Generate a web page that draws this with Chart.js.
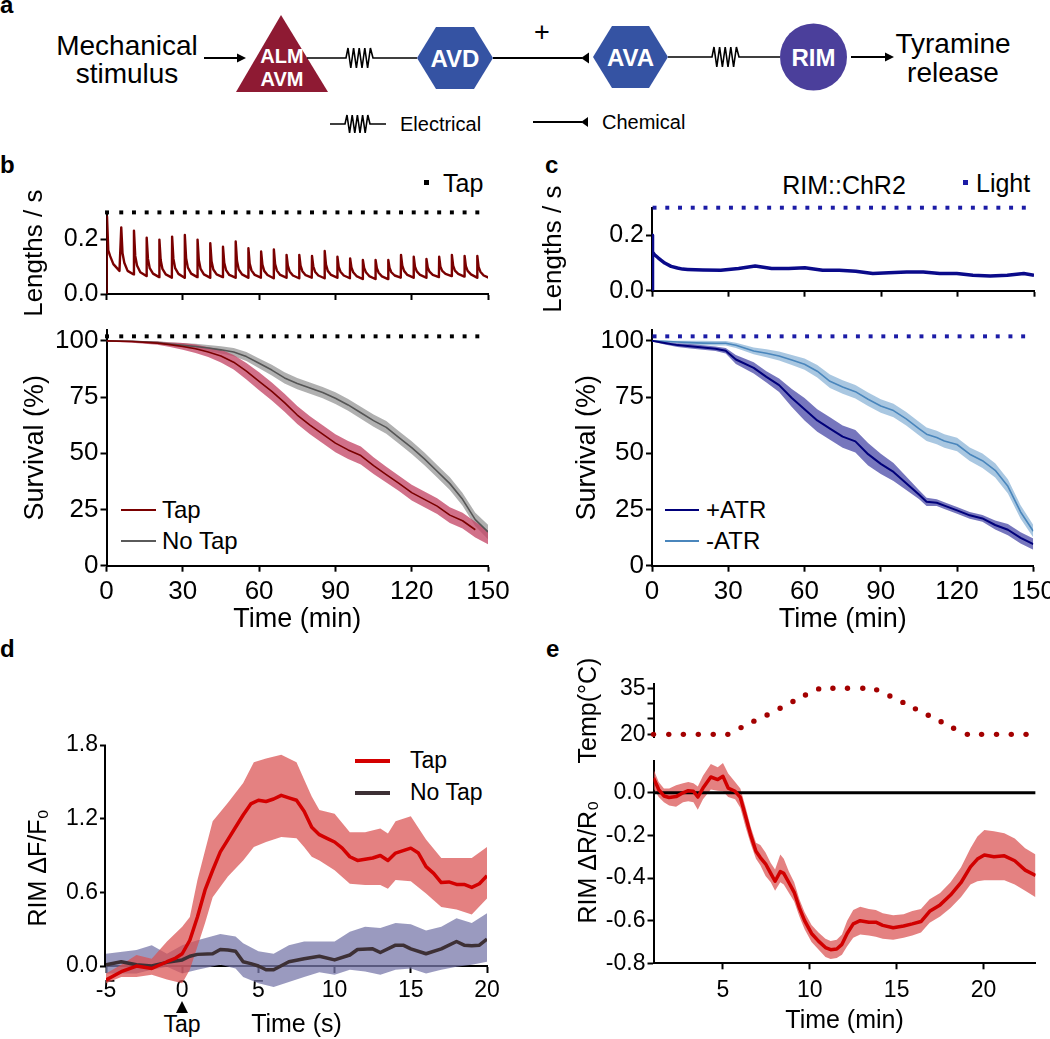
<!DOCTYPE html>
<html><head><meta charset="utf-8">
<script src="https://cdn.jsdelivr.net/npm/chart.js@4.4.1/dist/chart.umd.min.js"></script>
<style>
html,body{margin:0;padding:0;background:#fff;}
body{width:1050px;height:1039px;overflow:hidden;position:relative;font-family:"Liberation Sans",Arial,Helvetica,sans-serif;color:#000;}
canvas{position:absolute;}
.tx{position:absolute;white-space:nowrap;line-height:1;}
.lbl{position:absolute;font-weight:bold;font-size:24px;line-height:1;}
.ln{position:absolute;}
</style></head><body>

<svg width="1050" height="140" style="position:absolute;left:0;top:0" font-family="Liberation Sans, Arial, sans-serif">
  <text x="0" y="13" font-size="24" font-weight="bold">a</text>
  <text x="127" y="55" font-size="28" text-anchor="middle">Mechanical</text>
  <text x="127" y="83" font-size="28" text-anchor="middle">stimulus</text>
  <line x1="204" y1="58" x2="238" y2="58" stroke="#000" stroke-width="2"/>
  <polygon points="246,58 237,53.5 237,62.5" fill="#000"/>
  <polygon points="281,15 236,92 328,92" fill="#8e1a33"/>
  <text x="282" y="63" font-size="20" font-weight="bold" fill="#fff" text-anchor="middle">ALM</text>
  <text x="282" y="86" font-size="20" font-weight="bold" fill="#fff" text-anchor="middle">AVM</text>
  <polyline points="307,58 346,58 348,48 350.8,68 353.6,48 356.4,68 359.2,48 362,68 364.8,48 367.6,68 370.4,48 373,58 417,58" fill="none" stroke="#000" stroke-width="1.6" stroke-linejoin="miter"/>
  <polygon points="417,58 436,27 474,27 493,58 474,89 436,89" fill="#3553a3"/>
  <text x="455" y="66.5" font-size="24" font-weight="bold" fill="#fff" text-anchor="middle">AVD</text>
  <line x1="493" y1="58" x2="582" y2="58" stroke="#000" stroke-width="2"/>
  <polygon points="581,58 589,52.5 589,63.5" fill="#000"/>
  <text x="542" y="41" font-size="27" text-anchor="middle">+</text>
  <polygon points="593,57 612,26 649,26 668,57 649,88 612,88" fill="#3553a3"/>
  <text x="630.5" y="65.5" font-size="24" font-weight="bold" fill="#fff" text-anchor="middle">AVA</text>
  <polyline points="668,57 712,57 714,47 716.8,67 719.6,47 722.4,67 725.2,47 728,67 730.8,47 733.6,67 736.4,47 739,57 780,57" fill="none" stroke="#000" stroke-width="1.6"/>
  <circle cx="813.5" cy="57" r="33.5" fill="#4b3f9b"/>
  <text x="813.5" y="65.5" font-size="24" font-weight="bold" fill="#fff" text-anchor="middle">RIM</text>
  <line x1="851" y1="57" x2="886" y2="57" stroke="#000" stroke-width="2"/>
  <polygon points="894,57 885,52.5 885,61.5" fill="#000"/>
  <text x="953" y="53" font-size="28" text-anchor="middle">Tyramine</text>
  <text x="953" y="82" font-size="28" text-anchor="middle">release</text>
  <polyline points="330,124 345,124 347,115 349.6,133 352.2,115 354.8,133 357.4,115 360,133 362.6,115 365.2,133 367.8,115 370,124 386,124" fill="none" stroke="#000" stroke-width="1.6"/>
  <text x="400" y="131" font-size="20">Electrical</text>
  <line x1="533" y1="122" x2="582" y2="122" stroke="#000" stroke-width="2"/>
  <polygon points="581,122 588,117 588,127" fill="#000"/>
  <text x="602" y="129" font-size="20">Chemical</text>
</svg>

<div class="lbl" style="left:0;top:153px">b</div>
<div class="lbl" style="left:545px;top:153px">c</div>
<div class="lbl" style="left:0;top:637px">d</div>
<div class="lbl" style="left:546px;top:637px">e</div>

<!-- b annotations -->
<div class="ln" style="left:424px;top:180px;width:5px;height:5px;background:#000"></div>
<div class="tx" style="left:443px;top:171px;font-size:25px">Tap</div>
<div class="ln" style="left:121px;top:509px;width:35px;height:2px;background:#7a0000"></div>
<div class="tx" style="left:162px;top:498px;font-size:24px">Tap</div>
<div class="ln" style="left:121px;top:540px;width:35px;height:2px;background:#5a5a5a"></div>
<div class="tx" style="left:162px;top:529px;font-size:24px">No Tap</div>

<!-- c annotations -->
<div class="tx" style="left:844px;top:173px;font-size:25px;transform:translateX(-50%)">RIM::ChR2</div>
<div class="ln" style="left:963px;top:180px;width:5px;height:5px;background:#1c1ca6"></div>
<div class="tx" style="left:976px;top:171px;font-size:25px">Light</div>
<div class="ln" style="left:665px;top:509px;width:34px;height:2px;background:#00007a"></div>
<div class="tx" style="left:706px;top:498px;font-size:24px">+ATR</div>
<div class="ln" style="left:665px;top:540px;width:34px;height:2px;background:#4a86bc"></div>
<div class="tx" style="left:706px;top:529px;font-size:24px">-ATR</div>

<!-- d annotations -->
<div class="ln" style="left:355px;top:759px;width:35px;height:4px;background:#d40000"></div>
<div class="tx" style="left:410px;top:749px;font-size:23px">Tap</div>
<div class="ln" style="left:355px;top:791px;width:35px;height:4px;background:#3d3035"></div>
<div class="tx" style="left:410px;top:781px;font-size:23px">No Tap</div>
<svg width="20" height="14" style="position:absolute;left:172px;top:1000px"><polygon points="10,1 16,13 4,13" fill="#000"/></svg>
<div class="tx" style="left:182px;top:1013px;font-size:23px;transform:translateX(-50%)">Tap</div>

<canvas id="b1"></canvas>
<canvas id="b2"></canvas>
<canvas id="c1"></canvas>
<canvas id="c2"></canvas>
<canvas id="d1"></canvas>
<canvas id="e1"></canvas>
<canvas id="e2"></canvas>

<script>
// ---------------- DATA ----------------
// Panel b (top): tap times (min) and body-length trace samples after each tap
const tapTimes = [0.2,5.8,10.8,15.8,20.8,25.8,30.8,35.8,40.8,45.8,50.8,55.8,60.8,65.8,70.8,75.8,80.8,85.8,90.8,95.8,100.8,105.8,110.8,115.8,120.8,125.8,130.8,135.8,140.8,145.8];
const tapPeak   = [0.285,0.245,0.233,0.207,0.2,0.211,0.217,0.2,0.187,0.174,0.193,0.168,0.156,0.164,0.144,0.144,0.14,0.158,0.137,0.131,0.125,0.125,0.125,0.144,0.137,0.129,0.137,0.144,0.14,0.14];
const tapD1     = [0.16,0.15,0.14,0.13,0.125,0.13,0.132,0.125,0.12,0.115,0.122,0.112,0.108,0.11,0.104,0.104,0.102,0.108,0.1,0.098,0.096,0.095,0.096,0.104,0.1,0.098,0.1,0.104,0.102,0.1];
const tapD2     = [0.14,0.115,0.105,0.095,0.092,0.095,0.097,0.092,0.09,0.088,0.09,0.087,0.085,0.086,0.083,0.084,0.082,0.085,0.082,0.08,0.08,0.078,0.08,0.085,0.083,0.082,0.085,0.086,0.085,0.082];
const tapD3     = [0.11,0.085,0.08,0.075,0.072,0.074,0.075,0.072,0.072,0.07,0.072,0.07,0.07,0.07,0.068,0.069,0.068,0.07,0.068,0.066,0.066,0.065,0.068,0.07,0.07,0.07,0.074,0.074,0.072,0.068];
const tapTrough = [0.085,0.072,0.066,0.062,0.06,0.06,0.062,0.06,0.062,0.06,0.06,0.06,0.058,0.06,0.058,0.06,0.058,0.06,0.058,0.055,0.055,0.055,0.06,0.06,0.06,0.062,0.066,0.064,0.06,0.058];
const tapSampleOffsets = [0, 0.5, 1.2, 2.5, 4.9];

// Panel c (top): light stimulation and length trace
const lightTimes = [1,6,11,16,21,26,31,36,41,46,51,56,61,66,71,76,81,86,91,96,101,106,111,116,121,126,131,136,141,146];
const lightT = [0,0.1,0.3,1,2.5,5,7.5,10,12,14,20,27,34,40.5,47,53.7,60,67,73.5,80,86.7,93,100,106.5,113,119.7,126,132.8,139.5,146,150];
const lightV = [0,0.2,0.14,0.13,0.118,0.1,0.088,0.082,0.078,0.077,0.075,0.074,0.08,0.089,0.08,0.08,0.083,0.074,0.074,0.07,0.062,0.065,0.068,0.068,0.062,0.062,0.056,0.053,0.056,0.062,0.056];

// Panel b (bottom): survival
const survT = [0,10,20,25,30,35,40,45,50,55,60,65,70,75,80,85,90,95,100,105,110,115,120,125,130,135,140,145,150];
const tapMean = [100,99.7,99,98.3,97.5,96.5,95,93.3,90.5,86.5,82,77.5,72.5,67,62.5,58.5,54.5,51.5,49,44.5,40.5,36.6,32.5,29.5,26.5,22.5,20,16,null];
const tapLo   = [99.7,99.2,98.3,97.3,96,94.6,92.8,90.4,87.3,82.8,78,73.5,68.5,63,58.5,54.5,50.5,47.5,45,40.8,37,33.2,29,26,23,19,16.5,12.5,9.5];
const tapHi   = [100,100,99.7,99.3,99,98.4,97.2,96.2,93.7,90.2,86,81.5,76.5,71,66.5,62.5,58.5,55.5,53,48.2,44,40,36,33,30,26,23.5,19.5,15.5];
const noTapMean = [100,99.8,99.2,98.6,98,97.5,96.8,96,95,93,90,87,83.5,81,79,77,74.5,71.5,68,64.5,61.5,57,52.5,47.5,42,36.5,29.5,20.5,15];
const noTapLo   = [99.8,99.4,98.6,97.8,97,96.3,95.4,94.4,93.2,91,87.8,84.6,81,78.5,76.5,74.5,71.9,68.9,65.3,61.8,58.7,54.2,49.7,44.7,39.2,33.7,26.7,17.5,11.8];
const noTapHi   = [100,100,99.8,99.4,99,98.7,98.2,97.6,96.8,95,92.2,89.4,86,83.5,81.5,79.5,77.1,74.1,70.7,67.2,64.3,59.8,55.3,50.3,44.8,39.3,32.3,23.5,18.2];
const survDotLevel = 102;

// Panel c (bottom): survival
const cT = [0,5,10,15,20,25,29,33,40,45,50,55,60,65,70,75,80,85,90,95,100,105,108,112,115,120,125,130,135,140,145,150];
const atrMean = [100,99,98.1,97.6,97,96.5,95.6,91.7,88,84,80.3,74.6,69.6,64.6,61,57.4,55.3,49.6,45.3,41.7,36.7,31.7,28.4,28,26.7,24.6,22.4,21,18.1,16,12.4,9.6];
const atrLo   = [99.7,98.4,97.3,96.6,96,95.5,94.4,89.7,85.5,81.5,77.3,70.6,64.6,59.6,56,52.4,50.3,44.6,40.8,37.7,33.7,29.7,26.6,26.5,25.2,23.1,20.9,19.5,16.1,13.5,9.9,7.1];
const atrHi   = [100,99.6,98.9,98.6,98,97.5,96.8,93.7,90.5,86.5,83.3,78.6,74.6,69.6,66,62.4,60.3,54.6,49.8,45.7,39.7,33.7,30.2,29.5,28.2,26.1,23.9,22.5,20.1,18.5,14.9,12.1];
const noAtrMean = [100,99.8,99.5,99.2,99,98.9,98.9,98,95.5,94.5,93.3,91.5,89.6,86.5,82,79.5,77.4,74,71,69,65.3,61,58.5,57,55.5,53.9,49.6,46.7,42.4,35.3,23.9,15.3];
const noAtrLo   = [99.8,99.4,98.9,98.4,98,97.9,97.9,96.8,94,92.7,91.3,89.3,87.1,83.7,79,76.5,74.4,71,68,66,62.3,58,55.5,54,52.5,50.9,46.6,43.5,39.2,32.1,20.9,12.5];
const noAtrHi   = [100,100,100,100,100,99.9,99.9,99.2,97,96.3,95.3,93.7,92.1,89.3,85,82.5,80.4,77,74,72,68.3,64,61.5,60,58.5,56.9,52.6,49.9,45.6,38.5,26.9,18.1];

// Panel d: RIM calcium response
const dTapT = [-5,-4,-3,-2,-1,-0.5,0,0.5,1,1.5,2,2.5,3,3.5,4,4.5,5,5.5,6,6.5,7,7.5,8,8.5,9,9.5,10,10.5,11,11.5,12,12.5,13,13.5,14,14.5,15,15.5,16,16.5,17,17.5,18,18.5,19,19.5,20];
const dTapMean = [-0.114,-0.046,0.0,-0.02,0.035,0.06,0.10,0.21,0.40,0.62,0.78,0.93,1.03,1.13,1.23,1.32,1.35,1.34,1.36,1.39,1.37,1.35,1.26,1.13,1.07,1.04,1.01,0.96,0.89,0.86,0.87,0.88,0.90,0.86,0.92,0.94,0.96,0.92,0.81,0.755,0.68,0.685,0.665,0.665,0.64,0.67,0.735];
const dTapBandT = [-5,-4,-3,-2,-1,0,0.5,1,1.5,2,3,4,4.7,5.5,6.5,7.5,8,8.5,9,10,11,12,13,13.5,14,15,16,17,18,19,20];
const dTapLo = [-0.14,-0.09,-0.09,-0.07,-0.11,-0.14,-0.03,0.16,0.35,0.56,0.73,0.86,0.97,1.01,1.05,1.04,0.97,0.89,0.86,0.78,0.67,0.66,0.66,0.63,0.70,0.69,0.59,0.48,0.46,0.42,0.55];
const dTapHi = [-0.06,0.01,0.09,0.06,0.20,0.32,0.40,0.70,0.94,1.18,1.33,1.49,1.66,1.69,1.72,1.66,1.52,1.38,1.27,1.24,1.09,1.09,1.12,1.08,1.18,1.22,1.03,0.88,0.88,0.88,0.97];
const dNoT = [-5,-4,-3,-2,-1,0,0.5,1,2,2.5,3,3.5,4,4.5,5,5.5,6,7,8,9,10,11,11.5,12.5,13,14,14.5,15,16,17,18,18.5,19,19.5,20];
const dNoMean = [0.01,0.035,0.01,0.0,0.03,0.05,0.08,0.095,0.10,0.135,0.13,0.12,0.035,0.02,0.0,-0.03,-0.03,0.035,0.06,0.08,0.05,0.09,0.135,0.14,0.11,0.17,0.17,0.14,0.10,0.14,0.20,0.17,0.165,0.17,0.22];
const dNoBandT = [-5,-3,-2,-1,0,1,2.5,3.5,4,5,6,7,8,9,10,11,12,13,14,15,16,17,18,19,20];
const dNoLo = [-0.06,-0.06,-0.03,-0.005,-0.06,-0.03,0.01,-0.02,-0.09,-0.14,-0.17,-0.13,-0.09,-0.05,-0.07,-0.03,-0.045,-0.07,-0.03,-0.02,-0.06,-0.03,-0.005,0.01,0.035];
const dNoHi = [0.10,0.13,0.17,0.10,0.17,0.21,0.26,0.24,0.185,0.12,0.10,0.17,0.20,0.20,0.20,0.28,0.32,0.31,0.35,0.34,0.29,0.32,0.39,0.35,0.43];

// Panel e: temperature and RIM ratio
const tempT = [1.0,1.88,2.72,3.58,4.44,5.28,6.04,6.78,7.54,8.29,9.03,9.75,10.51,11.33,12.17,13.05,13.85,14.61,15.36,16.08,16.82,17.56,18.28,19.07,19.89,20.75,21.6,22.45];
const tempV = [20,20,20,20,20,20,22.2,24.3,26.3,28.5,30.7,32.8,34.8,35,35,35,34.5,32.5,30.4,28.3,26.2,24.1,22,20,20,20,20,20];
const eT = [1.0,1.3,1.6,1.9,2.3,2.7,3.0,3.3,3.55,3.85,4.3,4.7,5.0,5.3,5.7,6.0,6.3,6.6,6.9,7.15,7.45,7.75,8.0,8.3,8.5,8.8,9.1,9.4,9.7,10.1,10.5,10.9,11.2,11.55,11.85,12.15,12.5,12.9,13.4,13.8,14.2,14.8,15.4,15.9,16.4,16.9,17.5,18.1,18.7,19.25,19.65,20.05,20.6,21.2,21.8,22.4,23.0];
const eMean = [0.07,0.015,-0.015,-0.022,-0.018,0.0,0.01,0.007,-0.02,0.022,0.074,0.062,0.077,0.022,0.007,-0.022,-0.11,-0.2,-0.274,-0.304,-0.333,-0.378,-0.415,-0.37,-0.378,-0.422,-0.467,-0.54,-0.6,-0.66,-0.696,-0.726,-0.736,-0.733,-0.711,-0.66,-0.615,-0.6,-0.607,-0.607,-0.622,-0.633,-0.625,-0.615,-0.604,-0.556,-0.526,-0.48,-0.422,-0.348,-0.311,-0.292,-0.3,-0.296,-0.319,-0.363,-0.388];
const eLo = [0.02,-0.02,-0.045,-0.06,-0.065,-0.045,-0.04,-0.045,-0.08,-0.03,0.015,0.01,0.007,-0.02,-0.03,-0.07,-0.16,-0.24,-0.31,-0.34,-0.39,-0.42,-0.46,-0.42,-0.43,-0.47,-0.51,-0.58,-0.64,-0.7,-0.735,-0.77,-0.78,-0.775,-0.76,-0.72,-0.68,-0.665,-0.67,-0.675,-0.685,-0.69,-0.68,-0.67,-0.655,-0.61,-0.58,-0.54,-0.49,-0.43,-0.415,-0.41,-0.41,-0.41,-0.43,-0.46,-0.49];
const eHi = [0.11,0.05,0.02,0.02,0.035,0.045,0.05,0.045,0.03,0.08,0.135,0.12,0.14,0.09,0.05,0.02,-0.067,-0.16,-0.235,-0.245,-0.28,-0.33,-0.36,-0.29,-0.31,-0.37,-0.42,-0.5,-0.56,-0.62,-0.655,-0.685,-0.695,-0.69,-0.665,-0.6,-0.55,-0.535,-0.545,-0.55,-0.565,-0.575,-0.57,-0.555,-0.545,-0.5,-0.47,-0.42,-0.35,-0.26,-0.205,-0.175,-0.18,-0.19,-0.215,-0.26,-0.29];

// Tick labels
const survXTicks = [0,30,60,90,120,150];
const survYTicks = [0,25,50,75,100];
const lenYTicks = [0,0.2];
const dXTicks = [-5,0,5,10,15,20];
const dYTicks = [0,0.6,1.2,1.8];
const tempYTicks = [20,25,30,35];
const tempYLabels = [20,35];
const eXTicks = [5,10,15,20];
const eYTicks = [-0.8,-0.6,-0.4,-0.2,0];

// ---------------- HELPERS ----------------
Chart.defaults.font.family = '"Liberation Sans", Arial, Helvetica, sans-serif';
Chart.defaults.color = '#000';

const xy = (xs, ys) => xs.map((x, i) => ({x, y: ys[i]}));
const TRANSP = 'rgba(0,0,0,0)';

function lineDs(data, color, width, order, extra) {
  return Object.assign({data, borderColor: color, borderWidth: width, pointRadius: 0, fill: false, order, borderJoinStyle: 'round', spanGaps: false}, extra || {});
}
function bandPair(lo, hi, color, order) {
  return [
    {data: hi, borderColor: TRANSP, borderWidth: 0, pointRadius: 0, fill: '+1', backgroundColor: color, order},
    {data: lo, borderColor: TRANSP, borderWidth: 0, pointRadius: 0, fill: false, order}
  ];
}
function dotsDs(data, color, radius, style, order) {
  return {data, showLine: false, pointRadius: radius, pointStyle: style, pointBackgroundColor: color, pointBorderWidth: 0, borderColor: color, order, clip: false};
}
function lin(min, max, tickVals, fmt, fs, extra, pad) {
  const base = {
    type: 'linear', min, max,
    afterBuildTicks: s => { s.ticks = tickVals.map(v => ({value: v})); },
    border: {display: true, color: '#000', width: 2},
    grid: {display: true, drawOnChartArea: false, drawTicks: true, tickLength: 6, tickWidth: 2, tickColor: '#000'},
    ticks: {color: '#000', font: {size: fs}, padding: (pad === undefined ? 2 : pad), callback: fmt, autoSkip: false, maxRotation: 0}
  };
  return Object.assign(base, extra || {});
}
function makeChart(id, R, A, datasets, xs, ys, plugins) {
  const c = document.getElementById(id);
  c.width = R.w; c.height = R.h;
  c.style.left = R.x + 'px'; c.style.top = R.y + 'px';
  const yW = A.l - R.x, xH = (R.y + R.h) - A.b;
  ys.afterFit = s => { s.width = yW; };
  const dyn = (xs.display === false) || (typeof xs.position === 'object');
  if (!dyn) xs.afterFit = s => { s.height = xH; };
  return new Chart(c, {
    type: 'line',
    data: {datasets},
    options: {
      responsive: false, animation: false, devicePixelRatio: 1,
      layout: {padding: {left: 0, top: A.t - R.y, right: R.x + R.w - A.r, bottom: dyn ? (R.y + R.h - A.b) : 0}},
      scales: {x: xs, y: ys},
      plugins: {legend: {display: false}, tooltip: {enabled: false}}
    },
    plugins: plugins || []
  });
}
const f1 = v => Number(v).toFixed(1);
const f0 = v => String(v);

// ---------------- PANEL b top ----------------
const lengthsPts = [{x: 0, y: 0}];
tapTimes.forEach((t, i) => {
  [tapPeak, tapD1, tapD2, tapD3, tapTrough].forEach((arr, j) => lengthsPts.push({x: t + tapSampleOffsets[j], y: arr[i]}));
});
makeChart('b1', {x: 0, y: 185, w: 520, h: 145}, {l: 106.5, t: 212.4, r: 488, b: 294},
  [
    dotsDs(tapTimes.map(t => ({x: t, y: 0.3})), '#000', 2.8, 'rect', 0),
    lineDs(lengthsPts, '#7a0000', 2.4, 1)
  ],
  lin(0, 150, survXTicks, f0, 25, {ticks: {display: false}}),
  lin(0, 0.3, lenYTicks, f1, 25, {title: {display: true, text: 'Lengths / s', font: {size: 26}, padding: {top: 19, bottom: 0}}})
);

// ---------------- PANEL b bottom ----------------
makeChart('b2', {x: 0, y: 312, w: 520, h: 325}, {l: 106.5, t: 320, r: 488, b: 565.7},
  [
    dotsDs(tapTimes.map(t => ({x: t, y: survDotLevel})), '#000', 2.8, 'rect', 0),
    lineDs(xy(survT, tapMean), '#7a0000', 1.6, 1),
    lineDs(xy(survT, noTapMean), '#555555', 1.6, 2),
    ...bandPair(xy(survT, tapLo), xy(survT, tapHi), 'rgba(196,72,104,0.78)', 3),
    ...bandPair(xy(survT, noTapLo), xy(survT, noTapHi), 'rgba(150,150,150,0.75)', 4)
  ],
  lin(0, 150, survXTicks, f0, 26, {title: {display: true, text: 'Time (min)', font: {size: 27}, padding: {top: 0, bottom: 1}}}, 5),
  lin(0, 105, survYTicks, f0, 26, {title: {display: true, text: 'Survival (%)', font: {size: 27}, padding: {top: 19, bottom: 0}}})
);

// ---------------- PANEL c top ----------------
makeChart('c1', {x: 520, y: 180, w: 540, h: 145}, {l: 652, t: 207.7, r: 1034, b: 290.7},
  [
    dotsDs(lightTimes.map(t => ({x: t, y: 0.3})), '#1c1ca6', 2.8, 'rect', 0),
    lineDs(xy(lightT, lightV), '#0a0a8a', 3.5, 1)
  ],
  lin(0, 150, survXTicks, f0, 25, {ticks: {display: false}}),
  lin(0, 0.3, lenYTicks, f1, 25, {title: {display: true, text: 'Lengths / s', font: {size: 26}, padding: {top: 18, bottom: 0}}})
);

// ---------------- PANEL c bottom ----------------
makeChart('c2', {x: 520, y: 312, w: 540, h: 325}, {l: 652, t: 320, r: 1034, b: 565.7},
  [
    dotsDs(lightTimes.map(t => ({x: t, y: survDotLevel})), '#1c1ca6', 2.8, 'rect', 0),
    lineDs(xy(cT, atrMean), '#00007a', 2, 1),
    lineDs(xy(cT, noAtrMean), '#4a86bc', 1.6, 2),
    ...bandPair(xy(cT, atrLo), xy(cT, atrHi), 'rgba(80,80,170,0.78)', 3),
    ...bandPair(xy(cT, noAtrLo), xy(cT, noAtrHi), 'rgba(140,180,215,0.75)', 4)
  ],
  lin(0, 150, survXTicks, f0, 26, {title: {display: true, text: 'Time (min)', font: {size: 27}, padding: {top: 0, bottom: 1}}}, 5),
  lin(0, 105, survYTicks, f0, 26, {title: {display: true, text: 'Survival (%)', font: {size: 27}, padding: {top: 51, bottom: 0}}})
);

// ---------------- PANEL d ----------------
const dAxisLine = {id: 'dAxisLine', afterDraw(ch) {
  const y = ch.scales.y, ctx = ch.ctx, x = ch.chartArea.left;
  ctx.save(); ctx.strokeStyle = '#000'; ctx.lineWidth = 2; ctx.beginPath();
  ctx.moveTo(x - 1, y.getPixelForValue(dYTicks[dYTicks.length - 1]));
  ctx.lineTo(x - 1, y.getPixelForValue(0) + 1);
  ctx.stroke(); ctx.restore();
}};
const dX = lin(-5, 20, dXTicks, f0, 23, {position: {y: 0},
  title: {display: true, text: 'Time (s)', font: {size: 25}, padding: {top: 0, bottom: 1}},
  afterFit: s => { s.height = 75; }}, 5);
makeChart('d1', {x: 0, y: 700, w: 520, h: 340}, {l: 106, t: 745, r: 487, b: 990.6},
  [
    lineDs(xy(dTapT, dTapMean), '#d40000', 3.5, 0),
    lineDs(xy(dNoT, dNoMean), '#3d3035', 3.5, 1),
    ...bandPair(xy(dTapBandT, dTapLo), xy(dTapBandT, dTapHi), 'rgba(218,80,80,0.72)', 2),
    ...bandPair(xy(dNoBandT, dNoLo), xy(dNoBandT, dNoHi), 'rgba(120,120,170,0.75)', 3)
  ],
  dX,
  lin(-0.2, 1.8, dYTicks, f1, 23, {border: {display: false},
    title: {display: true, text: 'RIM ΔF/F₀', font: {size: 25}, padding: {top: 24, bottom: 0}}}),
  [dAxisLine]
);

// ---------------- PANEL e top (temperature) ----------------
makeChart('e1', {x: 520, y: 640, w: 540, h: 135}, {l: 653.5, t: 683.7, r: 1035.6, b: 737.4},
  [ dotsDs(xy(tempT, tempV), '#a30000', 2.7, 'circle', 0) ],
  {type: 'linear', min: 1, max: 23, display: false},
  lin(19, 36.5, tempYTicks, v => tempYLabels.includes(v) ? String(v) : '', 23,
    {title: {display: true, text: 'Temp(°C)', font: {size: 25}, padding: {top: 54, bottom: 0}}})
);

// ---------------- PANEL e bottom ----------------
makeChart('e2', {x: 520, y: 745, w: 540, h: 295}, {l: 653.5, t: 751.6, r: 1035.6, b: 963.3},
  [
    lineDs(xy(eT, eMean), '#d10000', 3.5, 0),
    lineDs([{x: 1, y: 0}, {x: 23, y: 0}], '#000', 3, 1),
    ...bandPair(xy(eT, eLo), xy(eT, eHi), 'rgba(218,80,80,0.72)', 2)
  ],
  lin(1, 23, eXTicks, f0, 23, {title: {display: true, text: 'Time (min)', font: {size: 25}, padding: {top: 0, bottom: 4}}}, 8),
  lin(-0.8, 0.15, eYTicks, f1, 23, {title: {display: true, text: 'RIM ΔR/R₀', font: {size: 25}, padding: {top: 54, bottom: 0}}})
);
</script>
</body></html>
